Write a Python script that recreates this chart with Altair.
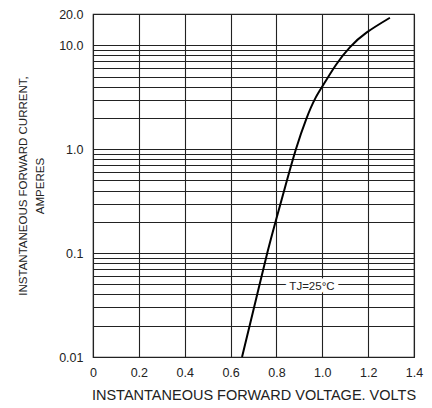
import altair as alt
import pandas as pd

# Forward characteristic curve
volts = [0.65, 0.70, 0.76, 0.80, 0.84, 0.885, 0.93, 0.97, 1.01, 1.06, 1.121, 1.194, 1.295]
amps = [0.01, 0.0285, 0.1, 0.215, 0.45, 1.0, 1.95, 3.1, 4.35, 6.5, 9.6, 13.3, 18.4]

x_ticks = [0, 0.2, 0.4, 0.6, 0.8, 1.0, 1.2, 1.4]
y_grid = [0.01, 0.02, 0.03, 0.04, 0.05, 0.06, 0.07, 0.08, 0.09,
          0.1, 0.2, 0.3, 0.4, 0.5, 0.6, 0.7, 0.8, 0.9,
          1, 2, 3, 4, 5, 6, 7, 8, 9, 10, 20]
y_labels = {20: "20.0", 10: "10.0", 1: "1.0", 0.1: "0.1", 0.01: "0.01"}

label_text = ["TJ=25°C"]
label_v = [0.955]
label_i = [0.047]

curve = pd.DataFrame({"v": volts, "i": amps})
lab = pd.DataFrame({"v": label_v, "i": label_i, "t": label_text})

label_expr = " : ".join(
    [f"datum.value == {k} ? '{v}'" for k, v in y_labels.items()]
) + " : ''"

xscale = alt.Scale(domain=[0, 1.4], nice=False, zero=False)
yscale = alt.Scale(type="log", domain=[0.01, 20], nice=False)

x_axis = alt.Axis(
    values=x_ticks, title="INSTANTANEOUS FORWARD VOLTAGE. VOLTS",
    labelExpr="datum.value == 0 ? '0' : format(datum.value, '.1f')",
    grid=True, ticks=False, domain=False, labelPadding=9, titlePadding=10,
    labelFontSize=12.5, titleFontSize=14.5, labelFlush=False,
    gridColor="#222", gridOpacity=1, gridWidth=1.1,
    labelColor="#222", titleColor="#222", labelFont="Liberation Sans",
    titleFont="Liberation Sans", titleFontWeight="normal",
)
y_axis = alt.Axis(
    values=y_grid, title=["INSTANTANEOUS FORWARD CURRENT,", "AMPERES"],
    labelExpr=label_expr, grid=True, ticks=False, domain=False,
    labelPadding=10, titlePadding=13, labelFontSize=12.5, titleFontSize=11.5,
    titleFont="Liberation Sans", titleLineHeight=17,
    labelFlush=False, labelOverlap=False,
    gridColor="#222", gridOpacity=1, gridWidth=1.1,
    labelColor="#222", titleColor="#222", labelFont="Liberation Sans",
    titleFontWeight="normal",
)

line = alt.Chart(curve).mark_line(color="black", strokeWidth=2, clip=True, interpolate="natural").encode(
    x=alt.X("v:Q", scale=xscale, axis=x_axis),
    y=alt.Y("i:Q", scale=yscale, axis=y_axis),
)

halo = alt.Chart(lab).mark_text(
    fontSize=11.5, font="Liberation Sans", color="white", stroke="white", strokeWidth=7
).encode(x=alt.X("v:Q", scale=xscale), y=alt.Y("i:Q", scale=yscale), text="t:N")

txt = alt.Chart(lab).mark_text(
    fontSize=11.5, font="Liberation Sans", color="#222"
).encode(x=alt.X("v:Q", scale=xscale), y=alt.Y("i:Q", scale=yscale), text="t:N")

chart = alt.layer(line, halo, txt).properties(
    width=321, height=343,
    background="white",
    autosize=alt.AutoSizeParams(type="none"),
    padding={"left": 85, "top": 6, "right": 10, "bottom": 50},
).configure_view(
    stroke="#222", strokeWidth=1.2
)

chart.save("out.html", embed_options={"renderer": "svg", "actions": False})
